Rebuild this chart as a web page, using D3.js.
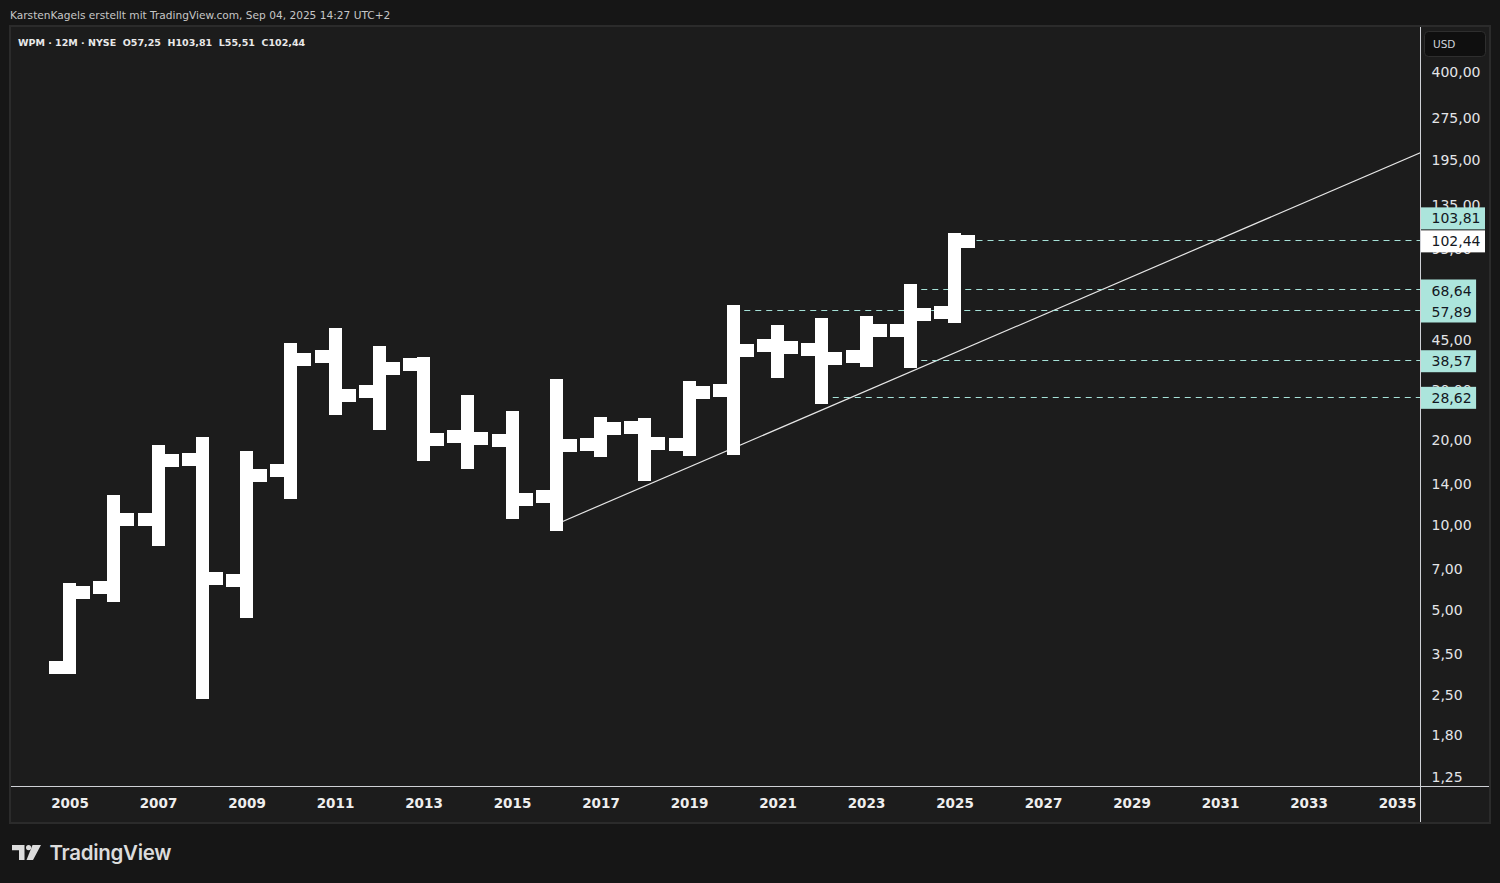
<!DOCTYPE html>
<html>
<head>
<meta charset="utf-8">
<script src="https://cdn.jsdelivr.net/npm/d3@7"></script>
<style>
  html, body { margin: 0; padding: 0; background: #161616; }
  svg { display: block; }
  text { white-space: pre; }
</style>
</head>
<body>
<svg id="chart" width="1500" height="883"></svg>
<script>
// ---------- DATA ----------
const years  = [2005, 2006, 2007, 2008, 2009, 2010, 2011, 2012, 2013, 2014, 2015, 2016, 2017, 2018, 2019, 2020, 2021, 2022, 2023, 2024, 2025];
const opens  = [3.18, 6.08, 10.65, 17.34, 6.48, 15.86, 40.10, 30.10, 37.50, 20.90, 20.20, 12.84, 19.60, 22.50, 19.60, 30.40, 43.80, 42.40, 40.10, 49.50, 57.25];
const highs  = [5.98, 12.33, 18.51, 19.75, 17.63, 42.40, 47.90, 41.40, 37.90, 27.80, 24.40, 31.70, 23.20, 23.10, 31.10, 57.89, 49.10, 52.00, 52.80, 68.64, 103.81];
const lows   = [3.17, 5.72, 9.05, 2.59, 5.00, 13.26, 26.25, 23.20, 18.07, 16.93, 11.27, 10.22, 18.70, 15.35, 18.80, 19.00, 35.50, 28.62, 38.80, 38.57, 55.51];
const closes = [5.88, 10.65, 17.20, 6.59, 15.23, 39.10, 29.20, 36.30, 20.40, 20.60, 12.53, 19.40, 22.30, 19.75, 29.90, 42.10, 43.10, 39.40, 49.50, 56.40, 102.44];

const yearTicks  = [2005, 2007, 2009, 2011, 2013, 2015, 2017, 2019, 2021, 2023, 2025, 2027, 2029, 2031, 2033, 2035];
const priceTicks = [400, 275, 195, 135, 95, 65, 45, 30, 20, 14, 10, 7, 5, 3.5, 2.5, 1.8, 1.25];

// horizontal dashed levels: value and the bar (year) where each starts
const levelValues = [102.44, 68.64, 57.89, 38.57, 28.62];
const levelStarts = [2025, 2024, 2020, 2024, 2022];

// price scale labels (last price shown white)
const markerValues = [102.44, 103.81, 68.64, 57.89, 38.57, 28.62];
const markerKinds  = ["last", "level", "level", "level", "level", "level"];

// trend line anchors (year, price)
const trendYears  = [2016, 2020];
const trendPrices = [10.22, 19.00];

const headerText = "KarstenKagels erstellt mit TradingView.com, Sep 04, 2025 14:27 UTC+2";
const legendText = "WPM · 12M · NYSE  O57,25  H103,81  L55,51  C102,44";
const currency   = "USD";

// ---------- LAYOUT ----------
const svg = d3.select("#chart");
const paneL = 10, paneT = 26, paneR = 1490, paneB = 823;
const plotR = 1420, plotB = 786;

const x = d3.scaleLinear().domain([2005, 2035]).range([69.5, 1397]);
const y = d3.scaleLog().domain([1.25, 400]).range([782, 782 - 122.7 * Math.log(320)]);

const locale = d3.formatLocale({decimal: ",", thousands: ".", grouping: [3], currency: ["", "$"]});
const fmt2 = locale.format(".2f");

const FONT = "'DejaVu Sans', sans-serif";

// background
svg.append("rect").attr("width", 1500).attr("height", 883).attr("fill", "#161616");

// header
svg.append("text").attr("x", 10).attr("y", 18.5)
  .attr("font-family", FONT).attr("font-size", 10.6).attr("fill", "#c6c6c6")
  .text(headerText);

// pane
svg.append("rect").attr("x", paneL).attr("y", paneT)
  .attr("width", paneR - paneL).attr("height", paneB - paneT)
  .attr("fill", "#1c1c1c").attr("stroke", "#2b2b2b").attr("stroke-width", 2);

// clip
svg.append("defs").append("clipPath").attr("id", "plotclip")
  .append("rect").attr("x", paneL + 1).attr("y", paneT + 1)
  .attr("width", plotR - paneL - 1).attr("height", plotB - paneT - 1);

const plot = svg.append("g").attr("clip-path", "url(#plotclip)");

// trend line (log-linear extension to right edge)
const tx1 = x(trendYears[0]), ty1 = y(trendPrices[0]);
const endYear = x.invert(plotR + 2);
const endPrice = trendPrices[0] * Math.pow(trendPrices[1] / trendPrices[0],
  (endYear - trendYears[0]) / (trendYears[1] - trendYears[0]));
plot.append("line")
  .attr("x1", tx1).attr("y1", ty1)
  .attr("x2", x(endYear)).attr("y2", y(endPrice))
  .attr("stroke", "#e6e6e6").attr("stroke-width", 1.2);

// dashed level lines
plot.selectAll("line.level").data(levelValues).join("line")
  .attr("class", "level")
  .attr("x1", (d, i) => x(levelStarts[i]))
  .attr("x2", plotR)
  .attr("y1", d => Math.round(y(d)) - 0.5)
  .attr("y2", d => Math.round(y(d)) - 0.5)
  .attr("stroke", "#a6e2d8").attr("stroke-width", 1)
  .attr("stroke-dasharray", "6,5");

// OHLC bars
const bars = years.map((yr, i) => ({yr, o: opens[i], h: highs[i], l: lows[i], c: closes[i]}));
const T = 13, TICK = 14;
const bg = plot.append("g").attr("fill", "#ffffff").attr("shape-rendering", "crispEdges");
bars.forEach(d => {
  const cx = x(d.yr);
  bg.append("rect").attr("x", cx - T / 2).attr("width", T)
    .attr("y", y(d.h) - T / 2).attr("height", y(d.l) - y(d.h) + T);
  bg.append("rect").attr("x", cx - T / 2 - TICK).attr("width", TICK + 0.5)
    .attr("y", y(d.o) - T / 2).attr("height", T);
  bg.append("rect").attr("x", cx + T / 2 - 0.5).attr("width", TICK + 0.5)
    .attr("y", y(d.c) - T / 2).attr("height", T);
});

// axis lines
svg.append("line").attr("x1", plotR + 0.5).attr("x2", plotR + 0.5)
  .attr("y1", paneT + 1).attr("y2", paneB - 1)
  .attr("stroke", "#cfd1d6").attr("stroke-width", 1);
svg.append("line").attr("x1", paneL + 1).attr("x2", paneR - 1)
  .attr("y1", plotB + 0.5).attr("y2", plotB + 0.5)
  .attr("stroke", "#cfd1d6").attr("stroke-width", 1);

// price axis
const yAxis = d3.axisRight(y).tickValues(priceTicks).tickSize(0).tickPadding(11.5).tickFormat(fmt2);
const yg = svg.append("g").attr("transform", `translate(${plotR},0)`).call(yAxis);
yg.select(".domain").remove();
yg.selectAll("text").attr("font-family", FONT).attr("font-size", 14)
  .attr("fill", "#e4e5e8")
  .attr("y", d => Math.min(-2, (plotB - 9) - y(d)));

// time axis
const xAxis = d3.axisBottom(x).tickValues(yearTicks).tickSize(0).tickPadding(12).tickFormat(d3.format("d"));
const xg = svg.append("g").attr("transform", `translate(0,${plotB})`).call(xAxis);
xg.select(".domain").remove();
xg.selectAll("text").attr("font-family", FONT).attr("font-size", 13.5)
  .attr("font-weight", "bold").attr("fill", "#eeeeee");

// USD box
svg.append("rect").attr("x", 1424.5).attr("y", 31.5).attr("width", 61).attr("height", 25)
  .attr("rx", 4).attr("fill", "#0f0f0f").attr("stroke", "#2e2e2e");
svg.append("text").attr("x", 1433).attr("y", 48).attr("font-family", FONT)
  .attr("font-size", 10.5).attr("fill", "#d1d4dc").text(currency);

// price markers with collision avoidance
const BH = 22;
const placed = [];
markerValues.forEach((v, i) => {
  let cy = y(v);
  for (let k = 0; k < 3; k++) {
    placed.forEach(p => {
      if (Math.abs(cy - p.cy) < BH) {
        cy = (v > p.v) ? p.cy - BH - 1 : p.cy + BH - 1;
      }
    });
  }
  placed.push({v, cy, kind: markerKinds[i]});
});
const mg = svg.append("g");
placed.forEach(p => {
  const g = mg.append("g");
  const t = g.append("text").attr("x", 1431.5).attr("y", p.cy).attr("dy", "0.36em")
    .attr("font-family", FONT).attr("font-size", 14).attr("fill", "#131722")
    .text(fmt2(p.v));
  const tw = t.node().getComputedTextLength();
  g.insert("rect", "text").attr("x", plotR + 1).attr("y", p.cy - BH / 2)
    .attr("width", 11.5 + tw + 4.5 - 1).attr("height", BH)
    .attr("fill", p.kind === "last" ? "#ffffff" : "#ace5dc");
});

// legend
svg.append("text").attr("x", 18).attr("y", 46).attr("font-family", FONT)
  .attr("font-size", 9.5).attr("font-weight", "bold").attr("fill", "#e9e9e9")
  .text(legendText);

// TradingView logo
const logo = svg.append("g").attr("fill", "#dcdcdc");
logo.append("path").attr("d", "M12,845 H24.5 V860 H19 V850.2 H12 Z");
logo.append("circle").attr("cx", 28.6).attr("cy", 847.6).attr("r", 2.6);
logo.append("path").attr("d", "M32.5,845 H41 L33,860 H26.5 Z");
logo.append("text").attr("x", 49.5).attr("y", 860).attr("font-family", "Inter, sans-serif")
  .attr("font-size", 20.5).attr("font-weight", 600).attr("letter-spacing", -0.3)
  .text("TradingView");
</script>
</body>
</html>
